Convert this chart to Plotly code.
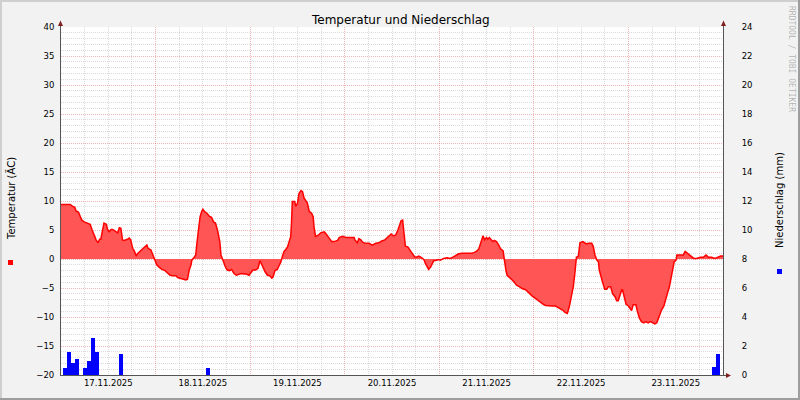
import plotly.graph_objects as go
import pandas as pd

START = "2025-11-17 00:00"
END = "2025-11-24 00:00"

# Temperature (°C): hours after START and values
temp_hours = [
    0.0, 2.3, 2.9, 3.5, 3.8, 4.4, 4.9, 5.3, 5.9, 6.6, 7.4, 7.9, 8.4, 8.9, 9.4, 9.8,
    10.1, 10.6, 10.9, 11.5, 11.8, 12.2, 12.7, 13.1, 13.5, 13.9, 14.4, 14.8, 15.2,
    15.6, 16.0, 16.9, 17.3, 17.7, 18.2, 18.6, 19.1, 19.4, 20.1, 20.7, 21.3, 21.8,
    22.1, 22.8, 23.5, 23.8, 24.3, 24.9, 25.6, 26.4, 27.0, 27.7, 28.3, 29.2, 29.6,
    30.4, 31.1, 31.7, 32.1, 32.5, 33.0, 33.2, 33.8, 34.2, 34.5, 34.8, 35.3, 35.7,
    36.0, 36.4, 37.0, 37.6, 38.2, 38.7, 39.2, 39.7, 40.3, 40.6, 41.1, 41.4, 41.8,
    42.2, 42.8, 43.3, 43.9, 44.5, 45.2, 45.8, 46.4, 47.0, 47.7, 48.1, 48.7, 49.4,
    50.0, 50.5, 51.1, 51.8, 52.4, 53.0, 53.5, 53.8, 54.3, 54.9, 55.3, 55.8, 56.2,
    56.6, 57.0, 57.5, 57.9, 58.3, 58.5, 58.7, 59.3, 59.6, 60.0, 60.4, 60.9, 61.3,
    61.7, 62.1, 62.5, 63.0, 63.6, 64.0, 64.2, 64.6, 65.3, 65.9, 66.8, 67.2, 67.6,
    68.2, 68.7, 69.3, 70.2, 70.6, 71.4, 72.3, 73.5, 74.4, 74.6, 75.2, 75.6, 76.1,
    76.5, 77.3, 78.2, 79.0, 79.9, 80.7, 81.4, 82.2, 82.8, 83.4, 83.8, 84.3, 84.9,
    85.5, 85.7, 86.0, 86.3, 86.7, 87.0, 87.4, 88.0, 88.5, 89.1, 89.7, 90.2, 90.8,
    91.4, 92.1, 92.5, 92.9, 93.3, 93.8, 94.2, 94.6, 95.3, 95.9, 96.3, 97.1, 98.0,
    98.8, 99.7, 100.4, 100.9, 101.8, 102.7, 103.5, 104.1, 104.8, 105.4, 106.0,
    106.5, 106.9, 107.1, 107.5, 108.0, 108.3, 108.7, 109.2, 109.6, 110.0, 110.5,
    111.1, 111.5, 112.2, 112.6, 112.9, 113.2, 113.7, 114.3, 114.9, 115.6, 116.4,
    117.0, 117.9, 118.7, 119.6, 120.4, 121.1, 121.7, 122.4, 123.0, 123.8, 124.7,
    125.5, 126.1, 126.8, 127.3, 127.9, 128.5, 129.0, 129.6, 130.0, 130.4, 130.8,
    131.3, 131.7, 132.4, 133.0, 133.4, 133.8, 134.7, 135.1, 135.5, 136.0, 136.4,
    136.6, 137.0, 137.4, 137.8, 138.0, 138.5, 138.9, 139.5, 140.0, 140.6, 141.0,
    141.4, 141.8, 142.3, 142.5, 142.9, 143.4, 144.0, 144.4, 144.8, 145.2, 145.9,
    146.3, 146.8, 147.3, 147.9, 148.4, 149.0, 149.6, 150.1, 150.7, 151.2, 151.6,
    152.0, 152.4, 153.0, 153.5, 153.9, 154.4, 154.7, 155.2, 155.6, 156.1, 156.3,
    157.1, 157.9, 158.4, 158.8, 159.4, 160.0, 160.6, 161.3, 162.2, 163.0, 163.7,
    164.3, 165.1, 166.0, 166.8, 167.4, 168.0,
]
temp_values = [
    9.4, 9.4, 9.1, 8.9, 8.3, 8.1, 7.3, 6.7, 6.4, 6.2, 6.0, 5.0, 4.0, 3.3, 2.8, 3.4,
    3.4, 5.0, 6.2, 6.0, 5.1, 4.7, 5.1, 5.1, 4.9, 4.7, 4.5, 5.4, 5.3,
    3.3, 3.2, 3.4, 3.6, 3.3, 1.8, 1.4, 0.5, 0.9, 1.3, 1.6, 2.1, 2.4,
    1.8, 1.6, 0.5, -0.1, -1.0, -1.4, -1.8, -2.0, -2.4, -2.8, -2.9, -2.9, -3.2,
    -3.4, -3.5, -3.6, -3.5, -2.0, -1.0, -0.2, 0.3, 0.7, 2.8, 5.0, 7.3, 8.2,
    8.6, 8.2, 7.9, 7.4, 7.2, 6.4, 6.2, 5.0, 3.0, 0.7, -0.2, -1.1, -1.5,
    -1.9, -2.0, -1.8, -2.5, -2.8, -2.6, -2.5, -2.6, -2.6, -2.8, -2.5, -1.9, -1.9,
    -1.6, -0.3, -1.2, -2.2, -2.8, -2.9, -3.3, -3.1, -2.0, -1.8, -1.2, -0.5, 0.5,
    1.3, 1.6, 2.1, 3.0, 3.9, 6.2, 9.9, 9.9, 9.1, 9.6, 11.3, 11.8, 11.6,
    10.5, 10.1, 9.7, 8.2, 7.9, 7.3, 5.6, 3.9, 4.1, 4.5, 4.7, 4.4, 4.0,
    3.3, 3.0, 3.0, 3.2, 3.7, 3.9, 3.7, 3.7, 3.7, 3.3, 2.8, 3.5, 3.3,
    2.9, 2.7, 2.7, 2.4, 2.7, 2.8, 3.1, 3.3, 3.7, 4.1, 4.3, 4.0, 4.1,
    5.0, 5.5, 6.3, 6.6, 6.7, 4.4, 2.2, 2.1, 1.6, 0.9, 0.4, 0.3, 0.5,
    0.3, -0.1, -0.8, -1.2, -1.8, -1.4, -0.8, -0.3, -0.2, -0.1, -0.2, 0.1, 0.2,
    0.1, 0.4, 0.7, 0.9, 1.0, 1.0, 0.9, 1.0, 1.1, 1.3, 1.7,
    2.7, 3.9, 4.0, 3.3, 3.7, 3.4, 3.7, 3.3, 3.0, 3.2, 3.0,
    2.4, 1.8, 1.4, -0.8, -1.9, -2.8, -3.2, -3.5, -3.9, -4.5, -4.8,
    -5.1, -5.3, -5.9, -6.4, -6.8, -7.2, -7.5, -7.8, -8.0, -8.1, -8.1,
    -8.1, -8.3, -8.5, -8.8, -9.2, -9.4, -8.2, -6.2, -4.8, -2.5, 0.3,
    0.5, 2.8, 3.0, 2.8, 2.6, 2.7, 2.7, 2.1, 0.7, -0.2, -0.5,
    -1.9, -3.1, -3.9, -4.8, -5.2, -5.2, -4.8, -4.8, -6.0, -6.5, -7.2,
    -7.2, -6.2, -5.3, -5.3, -6.5, -7.8, -8.1, -8.5, -8.9, -7.9, -7.9,
    -9.1, -10.2, -10.8, -11.0, -10.8, -11.0, -10.8, -11.0, -11.2, -11.0, -10.2,
    -9.4, -8.8, -8.1, -7.1, -5.9, -4.8, -3.6, -1.9, -0.5, -0.2, 0.7,
    0.7, 0.7, 1.3, 1.1, 0.7, 0.4, 0.1, 0.1, 0.3, 0.3, 0.7,
    0.3, 0.3, 0.1, 0.3, 0.5, 0.5,
]

# Precipitation (mm per hour): hour centres after START and values
rain_hours = [1.1, 2.1, 3.1, 4.1, 6.1, 7.1, 8.1, 9.1, 15.3, 37.3, 165.7, 166.7]
rain_mm = [0.46, 1.56, 0.85, 1.10, 0.46, 0.94, 2.55, 1.56, 1.45, 0.46, 0.53, 1.45]

TITLE = "Temperatur und Niederschlag"
LEFT_TITLE = "Temperatur (ÄC)"
RIGHT_TITLE = "Niederschlag (mm)"
WATERMARK = "RRDTOOL / TOBI OETIKER"

t0 = pd.Timestamp(START)
temp_x = [t0 + pd.Timedelta(hours=h) for h in temp_hours]
rain_x = [t0 + pd.Timedelta(hours=h) for h in rain_hours]

# plot-area geometry in pixels
L, R, T, B = 61, 723, 27, 375
W, H = 800, 400


def px(x):
    return (x - L) / (R - L)


def py(y):
    return (B - y) / (B - T)


GRID = "rgba(143,143,143,0.32)"
MGRID = "rgba(222,79,79,0.42)"
AXIS = "#555555"
ARROW = "#801F1F"
DOT = "1px,1px"

fig = go.Figure()
fig.add_trace(go.Scatter(
    x=temp_x, y=temp_values, mode="lines", fill="tozeroy",
    fillcolor="#FF5555", line=dict(color="#FF0000", width=1.5),
    hoverinfo="skip", showlegend=False))
fig.add_trace(go.Bar(
    x=rain_x, y=rain_mm, width=3600000, yaxis="y2",
    marker=dict(color="#0000FF", line=dict(width=0)),
    hoverinfo="skip", showlegend=False))

fig.update_layout(
    width=W, height=H,
    margin=dict(l=L, r=W - R, t=T, b=H - B, autoexpand=False),
    paper_bgcolor="#F2F2F2", plot_bgcolor="#FFFFFF",
    font=dict(family="DejaVu Sans", size=8.5, color="#000000"),
    showlegend=False, bargap=0, hovermode=False,
    xaxis=dict(
        type="date", range=[START, END], tick0=START, dtick=86400000,
        tickformat="%d.%m.%Y", ticklabelmode="period",
        showgrid=True, gridcolor=MGRID, griddash=DOT, gridwidth=1,
        minor=dict(tick0=START, dtick=21600000, showgrid=True,
                   gridcolor=GRID, griddash=DOT),
        showline=True, linecolor=AXIS, linewidth=1, ticks="",
        zeroline=False, automargin=False, fixedrange=True),
    yaxis=dict(
        range=[-20, 40], tick0=0, dtick=5,
        showgrid=True, gridcolor=MGRID, griddash=DOT, gridwidth=1,
        minor=dict(tick0=0, dtick=1, showgrid=True, gridcolor=GRID, griddash=DOT),
        showline=True, linecolor=AXIS, linewidth=1, ticks="",
        ticklabelstandoff=4, zeroline=False, automargin=False, fixedrange=True),
    yaxis2=dict(
        overlaying="y", side="right", range=[0, 24], tick0=0, dtick=2,
        showgrid=False, zeroline=False, showline=True, linecolor=AXIS,
        linewidth=1, ticks="", ticklabelstandoff=16, automargin=False,
        fixedrange=True),
)

annotations = [
    dict(text=TITLE, x=px(400), y=py(20), font=dict(size=12)),
    dict(text=LEFT_TITLE, x=px(11), y=py(199), textangle=-90, font=dict(size=10)),
    dict(text=RIGHT_TITLE, x=px(779), y=py(200), textangle=-90, font=dict(size=10)),
    dict(text=WATERMARK, x=px(792), y=py(59), textangle=90,
         font=dict(size=8, family="DejaVu Sans Mono", color="rgba(0,0,0,0.28)")),
]
for a in annotations:
    a.update(xref="paper", yref="paper", showarrow=False,
             xanchor="center", yanchor="middle")
fig.update_layout(annotations=annotations)

shapes = []
# image border (shade A top/left, shade B bottom/right)
shapes.append(dict(type="line", x0=px(0), x1=px(W), y0=py(1), y1=py(1),
                   line=dict(color="#CFCFCF", width=2)))
shapes.append(dict(type="line", x0=px(1), x1=px(1), y0=py(0), y1=py(H),
                   line=dict(color="#CFCFCF", width=2)))
shapes.append(dict(type="line", x0=px(0), x1=px(W), y0=py(H - 1), y1=py(H - 1),
                   line=dict(color="#9E9E9E", width=2)))
shapes.append(dict(type="line", x0=px(W - 1), x1=px(W - 1), y0=py(0), y1=py(H),
                   line=dict(color="#9E9E9E", width=2)))
# axis extensions
shapes.append(dict(type="line", x0=px(60.5), x1=px(60.5), y0=py(T), y1=py(22),
                   line=dict(color=AXIS, width=1)))
shapes.append(dict(type="line", x0=px(723.5), x1=px(723.5), y0=py(T), y1=py(22),
                   line=dict(color=AXIS, width=1)))
shapes.append(dict(type="line", x0=px(R), x1=px(727), y0=py(375.5), y1=py(375.5),
                   line=dict(color=AXIS, width=1)))


def tri(pts):
    d = "M " + " L ".join(f"{px(a):.5f},{py(b):.5f}" for a, b in pts) + " Z"
    return dict(type="path", path=d, fillcolor=ARROW, line=dict(width=0))


shapes.append(tri([(60.5, 20.5), (58, 26), (63, 26)]))
shapes.append(tri([(723.5, 20.5), (721, 26), (726, 26)]))
shapes.append(tri([(731, 375.5), (726, 373), (726, 378)]))
# legend colour boxes
shapes.append(dict(type="rect", x0=px(8), x1=px(13), y0=py(260), y1=py(265),
                   fillcolor="#FF0000", line=dict(width=0)))
shapes.append(dict(type="rect", x0=px(777), x1=px(782), y0=py(269), y1=py(274),
                   fillcolor="#0000FF", line=dict(width=0)))
for s in shapes:
    s.update(xref="paper", yref="paper", layer="above")
fig.update_layout(shapes=shapes)

fig.write_html(
    "out.html",
    config={"displayModeBar": False, "staticPlot": True},
    post_script="document.body.style.margin='0';document.body.style.padding='0';",
)
